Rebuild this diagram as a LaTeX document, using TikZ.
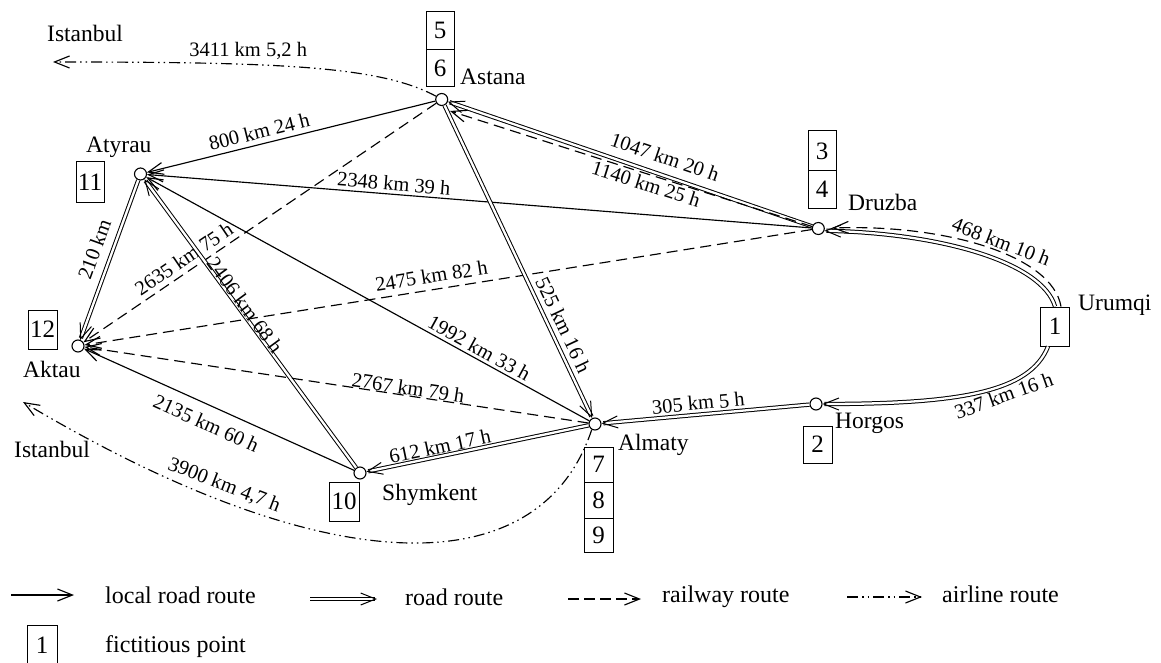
\documentclass[tikz,border=0pt]{standalone}
\usepackage{fontspec}
\setmainfont{Liberation Serif}
\usetikzlibrary{arrows.meta,calc}
\begin{document}
\begin{tikzpicture}[x=1pt,y=-1pt,
  city/.style={circle,draw,line width=1.1pt,fill=white,inner sep=0pt,minimum size=12pt},
  nbox/.style={draw,line width=1pt,inner sep=0pt,minimum width=28pt,font=\fontsize{25}{25}\selectfont},
  cname/.style={anchor=base west,inner sep=0pt,font=\fontsize{23.5}{26}\selectfont},
  legtext/.style={anchor=base west,inner sep=0pt,font=\fontsize{24}{26}\selectfont},
  elab/.style={font=\fontsize{20.5}{22}\selectfont,sloped,inner sep=2pt},
  flab/.style={font=\fontsize{20.5}{22}\selectfont,inner sep=2pt},
  mytip/.style={-{Straight Barb[length=15pt,width=12pt]}},
  localr/.style={line width=1.15pt,mytip},
  roadr/.style={double,double distance=2.3pt,line width=1pt,mytip},
  railr/.style={line width=1.15pt,dash pattern=on 11pt off 6pt,mytip},
  airr/.style={line width=1.15pt,dash pattern=on 11pt off 4pt on 1.5pt off 4pt on 1.5pt off 4pt,mytip},
]
\useasboundingbox (0,0) rectangle (1161,663);

% cities
\node[city] (astana) at (441.7,99.5) {};
\node[city] (atyrau) at (140.5,174) {};
\node[city] (aktau) at (78,346) {};
\node[city] (druzba) at (818.3,228.5) {};
\node[city] (horgos) at (816,404) {};
\node[city] (almaty) at (595,424) {};
\node[city] (shymkent) at (360,473) {};

% boxes
\node[nbox,minimum height=37.5pt] (b5) at (440,30.5) {5};
\node[nbox,minimum height=37.5pt] (b6) at (440,68) {6};
\node[nbox,minimum height=40pt] (b3) at (822,151) {3};
\node[nbox,minimum height=37pt] (b4) at (822,189.5) {4};
\node[nbox,minimum width=29pt,minimum height=39pt] (b1) at (1055,326.5) {1};
\node[nbox,minimum width=29pt,minimum height=37pt] (b2) at (817.5,444.5) {2};
\node[nbox,minimum width=29pt,minimum height=35pt] (b7) at (598.5,464.5) {7};
\node[nbox,minimum width=29pt,minimum height=36pt] (b8) at (598.5,500) {8};
\node[nbox,minimum width=29pt,minimum height=34pt] (b9) at (598.5,535) {9};
\node[nbox,minimum width=30pt,minimum height=39pt] (b10) at (344,501.5) {10};
\node[nbox,minimum height=40pt] (b11) at (90,182) {11};
\node[nbox,minimum width=29pt,minimum height=39pt] (b12) at (42.5,329.5) {12};

% city names
\node[cname] (nAstana) at (460,85) {Astana};
\node[cname] (nDruzba) at (848,210) {Druzba};
\node[cname] (nUrumqi) at (1078,310) {Urumqi};
\node[cname] (nHorgos) at (835,428) {Horgos};
\node[cname] (nAlmaty) at (618,450) {Almaty};
\node[cname] (nShymkent) at (382,500) {Shymkent};
\node[cname] (nAtyrau) at (86,153) {Atyrau};
\node[cname] (nAktau) at (23,377) {Aktau};
\node[cname] (nIstT) at (47,42) {Istanbul};
\node[cname] (nIstB) at (14,457) {Istanbul};

% routes
\draw[localr] (astana) -- node[elab,above=3pt,pos=0.6] {800 km 24 h} (atyrau);
\draw[localr] (druzba) -- node[elab,above=1pt,pos=0.63] {2348 km 39 h} (atyrau);
\draw[roadr] (druzba) -- node[elab,above=8pt,pos=0.42] {1047 km 20 h} (astana);
\coordinate (astR) at (450,111);
\draw[railr] (druzba) -- node[elab,below=0pt,pos=0.45] {1140 km 25 h} (astR);
\draw[railr] (druzba) -- node[elab,above=4pt,pos=0.52] {2475 km 82 h} (aktau);
\draw[railr] (astana) -- node[elab,above=3pt,pos=0.695] {2635 km 75 h} (aktau);
\draw[roadr] (astana) -- node[elab,above=4pt,pos=0.72] {525 km 16 h} (almaty);
\draw[localr] (almaty) -- node[elab,above=1pt,pos=0.26] {1992 km 33 h} (atyrau);
\draw[roadr] (shymkent) -- node[elab,above=-3pt,pos=0.55] {2406 km 68 h} (atyrau);
\draw[roadr] (atyrau) -- node[elab,above=8pt,pos=0.47] {210 km} (aktau);
\draw[railr] (almaty) -- node[elab,above=-2pt,pos=0.36] {2767 km 79 h} (aktau);
\draw[localr] (shymkent) -- node[elab,below=8pt,pos=0.52] {2135 km 60 h} (aktau);
\draw[roadr] (almaty) -- node[elab,above=0pt,pos=0.66] {612 km 17 h} (shymkent);
\draw[roadr] (horgos) -- node[elab,above=2pt,pos=0.53] {305 km 5 h} (almaty);

% Urumqi connections
\coordinate (druR) at (832,228);
\draw[roadr] (b1.north) .. controls (1042,262) and (940,233) .. (druzba.-20);
\draw[railr] ($(b1.north)+(6,0)$) .. controls (1052,255) and (945,224) .. node[elab,above=0pt,pos=0.45] {468 km 10 h} (druR);
\draw[roadr] ($(b1.south)+(-7,0)$) .. controls (1030,392) and (960,404) .. node[elab,below=0pt,pos=0.4] {337 km 16 h} (horgos);

% airline routes
\coordinate (istT) at (53,62);
\draw[airr] (astana.150) .. controls (380,66) and (280,62) .. node[flab,pos=0.65,above=2pt] {3411 km 5,2 h} (istT);
\coordinate (istB) at (23,402);
\draw[airr] (almaty.-120) .. controls (540,585) and (330,585) .. node[elab,above=4pt,pos=0.77] {3900 km 4,7 h} (istB);

% legend
\coordinate (l1a) at (11,595); \coordinate (l1b) at (74,595);
\draw[localr] (l1a) -- (l1b);
\node[legtext] (t1) at (105,603) {local road route};
\coordinate (l2a) at (310,599); \coordinate (l2b) at (377,599);
\draw[roadr] (l2a) -- (l2b);
\node[legtext] (t2) at (405,605) {road route};
\coordinate (l3a) at (568,599); \coordinate (l3b) at (641,599);
\draw[railr,dash pattern=on 11pt off 5pt] (l3a) -- (l3b);
\node[legtext] (t3) at (662,602) {railway route};
\coordinate (l4a) at (847,597); \coordinate (l4b) at (922,597);
\draw[airr] (l4a) -- (l4b);
\node[legtext] (t4) at (942,602) {airline route};
\node[nbox,minimum width=30pt,minimum height=40pt] (lb) at (42,645) {1};
\node[legtext] (t5) at (105,652) {fictitious point};
\end{tikzpicture}
\end{document}
